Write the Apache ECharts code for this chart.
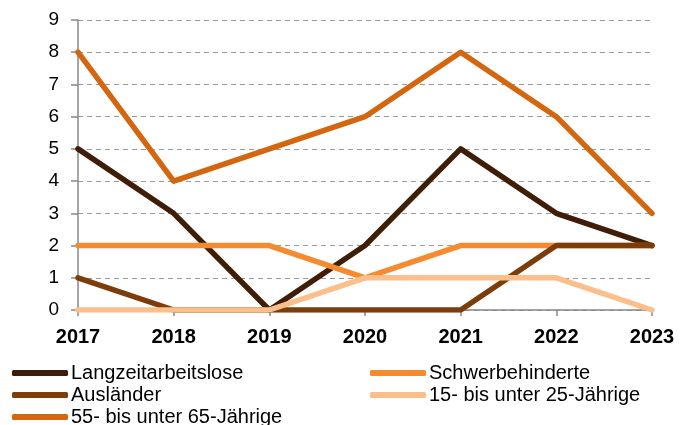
<!DOCTYPE html>
<html>
<head>
<meta charset="utf-8">
<script src="https://cdn.jsdelivr.net/npm/echarts@6/dist/echarts.min.js"></script>
<style>
html,body{margin:0;padding:0;background:#fff;}
#c{width:691px;height:425px;}
</style>
</head>
<body>
<div id="c"></div>
<script>
var years = ['2017','2018','2019','2020','2021','2022','2023'];
var langzeitarbeitslose = [5,3,0,2,5,3,2];
var schwerbehinderte = [2,2,2,1,2,2,2];
var auslaender = [1,0,0,0,0,2,2];
var jung15bis25 = [0,0,0,1,1,1,0];
var alt55bis65 = [8,4,5,6,8,6,3];
var yTicks = [0,1,2,3,4,5,6,7,8,9];

var names = ['Langzeitarbeitslose','Schwerbehinderte','Ausländer','15- bis unter 25-Jährige','55- bis unter 65-Jährige'];
var dataSets = [langzeitarbeitslose, schwerbehinderte, auslaender, jung15bis25, alt55bis65];
var colors = ['#3f1d06','#f68a2f','#7d3d0b','#fbbf8b','#d4660f'];
// legend slot for each series: [left, top]
var legendPos = [[12,363],[370,363],[12,385],[370,385],[12,407]];

var chart = echarts.init(document.getElementById('c'), null, {renderer:'canvas'});
var font = '"Liberation Sans", Arial, sans-serif';
chart.setOption({
  animation: false,
  color: colors,
  textStyle: {fontFamily: font},
  grid: {left: 78, right: 39, top: 20, bottom: 115, containLabel: false},
  legend: names.map(function(n, i){
    return {
      orient: 'horizontal',
      icon: 'roundRect',
      itemWidth: 56,
      itemHeight: 6,
      padding: 0,
      left: legendPos[i][0],
      top: legendPos[i][1],
      data: [n],
      textStyle: {fontFamily: font, fontSize: 20, color: '#000', lineHeight: 20, padding: [0,0,0,-2]}
    };
  }),
  xAxis: {
    type: 'category',
    data: years,
    boundaryGap: false,
    axisLine: {lineStyle: {color: '#888', width: 1.5}},
    axisTick: {show: true, length: 6, lineStyle: {color: '#888', width: 1.5}},
    axisLabel: {fontFamily: font, fontSize: 20, fontWeight: 'bold', color: '#000', margin: 17}
  },
  yAxis: {
    type: 'value',
    min: yTicks[0],
    max: yTicks[yTicks.length-1],
    interval: 1,
    axisLine: {show: true, lineStyle: {color: '#888', width: 1.5}},
    axisTick: {show: true, length: 7, lineStyle: {color: '#888', width: 1.5}},
    axisLabel: {fontFamily: font, fontSize: 19, color: '#000', margin: 19},
    splitLine: {show: true, lineStyle: {color: '#999', width: 1, type: [5,4]}}
  },
  series: names.map(function(n, i){
    return {
      name: n,
      type: 'line',
      data: dataSets[i],
      symbol: 'none',
      lineStyle: {width: 5.5, color: colors[i], cap: 'round', join: 'round'},
      itemStyle: {color: colors[i]}
    };
  })
});
</script>
</body>
</html>
